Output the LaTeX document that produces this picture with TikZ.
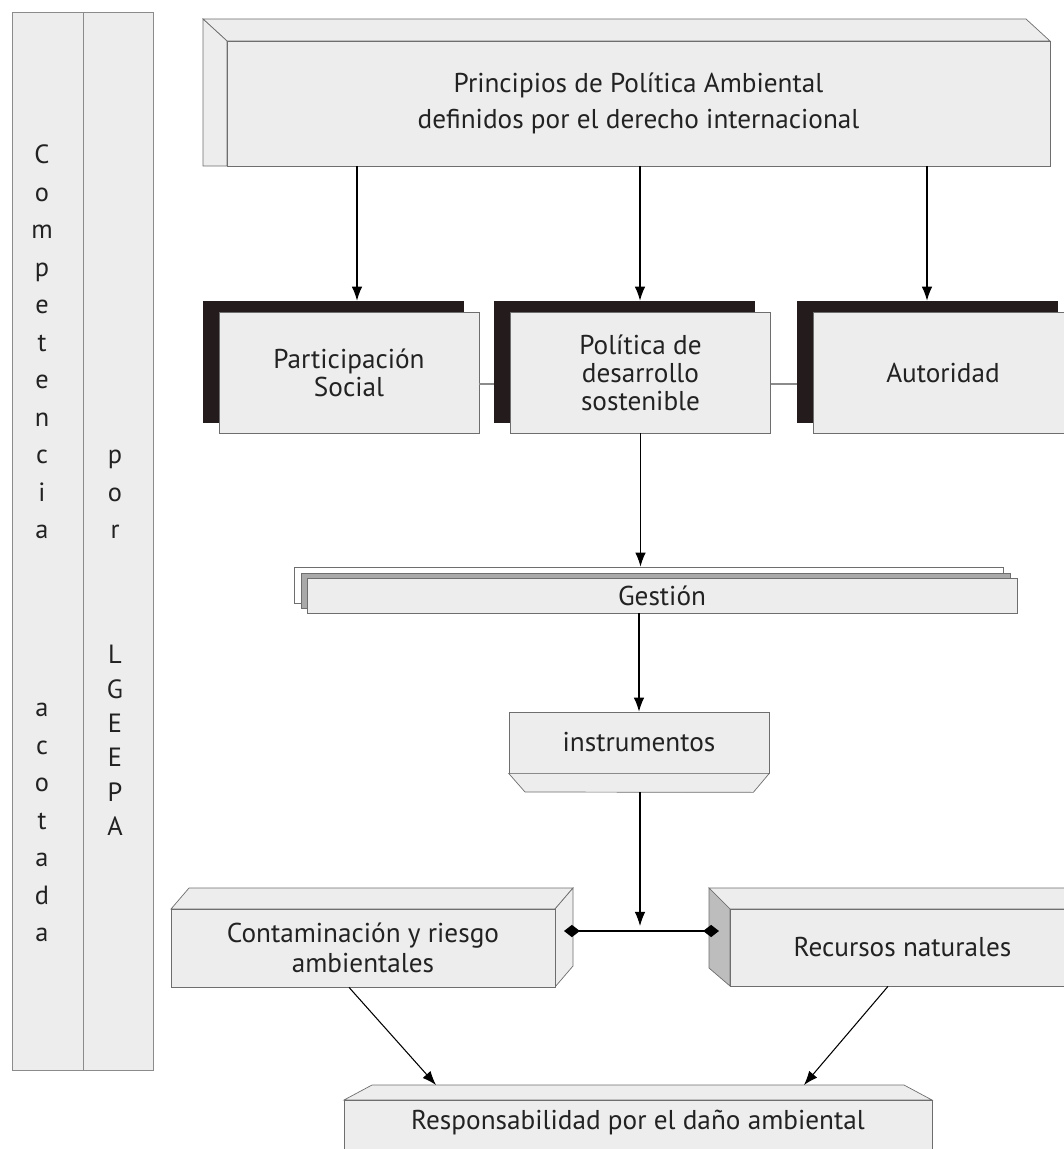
\documentclass[tikz,border=0pt]{standalone}
\usepackage{fontspec}
\setmainfont{PT Sans}
\usetikzlibrary{arrows.meta}

\definecolor{boxfill}{HTML}{EDEDED}
\definecolor{edge}{HTML}{6E6E6E}
\definecolor{ink}{HTML}{222222}
\definecolor{darkback}{HTML}{241C1C}
\definecolor{platefill}{HTML}{A9A9A9}
\definecolor{sidefill}{HTML}{BDBDBD}

\tikzset{
  face/.style={draw=edge, fill=boxfill, inner sep=0pt, align=center, text=ink,
    font=\fontsize{15.5}{16}\selectfont},
  darkbox/.style={draw=darkback, fill=darkback, inner sep=0pt},
  plate/.style={draw=edge, fill=#1, inner sep=0pt},
  side/.style={draw=edge, fill=boxfill},
  colbox/.style={draw=edge!80, fill=boxfill, inner sep=0pt},
  letter/.style={inner sep=0pt, text=ink, text height=10pt, text depth=0pt,
    font=\fontsize{15}{16}\selectfont},
  arr/.style={black, line width=0.6pt, -{Latex[length=8pt,width=6pt]}},
  dia/.style={black, line width=1pt, {Diamond[length=9pt,width=7pt]}-{Diamond[length=9pt,width=7pt]}},
  link/.style={draw=edge!80, line width=0.6pt}
}

\begin{document}
\begin{tikzpicture}[x=0.02cm,y=-0.02cm]

    \useasboundingbox (0,0) rectangle (1064,1149);

    % columna lateral
    \node[colbox, minimum width=1.42cm, minimum height=21.16cm] (colL) at (47.5,541) {};
    \node[colbox, minimum width=1.40cm, minimum height=21.16cm] (colR) at (118,541) {};

    \foreach \l [count=\i from 0] in {C,o,m,p,e,t,e,n,c,i,a}
        \node[letter] (comp\i) at (42,{155+37.5*\i}) {\l};
    \foreach \l [count=\i from 0] in {a,c,o,t,a,d,a}
        \node[letter] (acot\i) at (42,{708+37.5*\i}) {\l};
    \foreach \l [count=\i from 0] in {p,o,r}
        \node[letter] (por\i) at (115,{455+37.5*\i}) {\l};
    \foreach \l [count=\i from 0] in {L,G,E,E,P,A}
        \node[letter] (ley\i) at (115,{655+34.4*\i}) {\l};

    % principios
    \filldraw[side] (203,19) -- (1026,19) -- (1050,41) -- (227,41) -- cycle;
    \filldraw[side] (203,19) -- (227,41) -- (227,166) -- (203,166) -- cycle;
    \node[face, minimum width=16.46cm, minimum height=2.5cm, font=\fontsize{15.5}{20.5}\selectfont]
        (prin) at (638.5,103.5) {Principios de Política Ambiental\\definidos por el derecho internacional};

    % tres cajas con sombra
    \node[darkbox, minimum width=5.2cm, minimum height=2.42cm] (partsh) at (333,361.5) {};
    \node[darkbox, minimum width=5.2cm, minimum height=2.42cm] (polsh) at (624.5,361.5) {};
    \node[darkbox, minimum width=5.2cm, minimum height=2.42cm] (autsh) at (927,361.5) {};
    \node[face, minimum width=5.2cm, minimum height=2.42cm] (part) at (349,372.5) {Participación\\Social};
    \node[face, minimum width=5.2cm, minimum height=2.42cm] (pol) at (640.5,372.5) {Política de\\desarrollo\\sostenible};
    \node[face, minimum width=5.2cm, minimum height=2.42cm] (aut) at (943,372.5) {Autoridad};

    \draw[link] ([yshift=-0.23cm]part.east) -- ([yshift=-0.23cm]part.east -| polsh.west);
    \draw[link] ([yshift=-0.23cm]pol.east) -- ([yshift=-0.23cm]pol.east -| autsh.west);

    \draw[arr] (prin.south -| 357,0) -- (partsh.north -| 357,0);
    \draw[arr] (prin.south -| 640,0) -- (polsh.north -| 640,0);
    \draw[arr] (prin.south -| 927,0) -- (autsh.north -| 927,0);

    % gestion
    \node[plate=white, minimum width=14.18cm, minimum height=0.72cm] (gb) at (648.5,585) {};
    \node[plate=platefill, minimum width=14.18cm, minimum height=0.7cm] (gm) at (655.5,590.5) {};
    \node[face, minimum width=14.2cm, minimum height=0.7cm] (gest) at (662,595.5) {Gestión};
    \draw[arr] (pol.south) -- (pol.south |- gb.north);

    % instrumentos
    \node[face, minimum width=5.2cm, minimum height=1.22cm] (inst) at (639,742.5) {instrumentos};
    \filldraw[side] (inst.south west) -- (inst.south east) -- ++(-16,19) -- (525,792) -- cycle;
    \draw[arr] (gest.south -| inst.north) -- (inst.north);

    % contaminacion y recursos
    \filldraw[side] (171,909) -- (189,888) -- (573,888) -- (555,909) -- cycle;
    \filldraw[side] (555,909) -- (573,888) -- (573,966) -- (555,987) -- cycle;
    \node[face, minimum width=7.68cm, minimum height=1.56cm, font=\fontsize{15.5}{17}\selectfont]
        (cont) at (363,948) {Contaminación y riesgo\\ambientales};

    \filldraw[side] (709,888) -- (1090,888) -- (1090,909) -- (730,909) -- cycle;
    \filldraw[draw=edge, fill=sidefill] (709,888) -- (730,909) -- (730,986) -- (709,968) -- cycle;
    \node[face, minimum width=6.9cm, minimum height=1.54cm] (recu) at (902.5,947.5) {Recursos naturales};

    \coordinate (contmid) at (564,931);
    \coordinate (recumid) at (719,931);
    \coordinate (instbot) at (640,792);
    \draw[dia] (contmid) -- (recumid);
    \draw[arr] (instbot) -- (640,926);

    % responsabilidad
    \filldraw[side] (344,1100) -- (372,1085) -- (904,1085) -- (932,1100) -- cycle;
    \node[face, anchor=north, minimum width=11.76cm, text height=0.58cm, text depth=0.9cm]
        (resp) at (638,1100) {Responsabilidad por el daño ambiental};

    \coordinate (respl) at (436,1085);
    \coordinate (respr) at (804,1085);
    \draw[arr] (cont.south -| 349,0) -- (respl);
    \draw[arr] (recu.south -| 888,0) -- (respr);

\end{tikzpicture}
\end{document}
